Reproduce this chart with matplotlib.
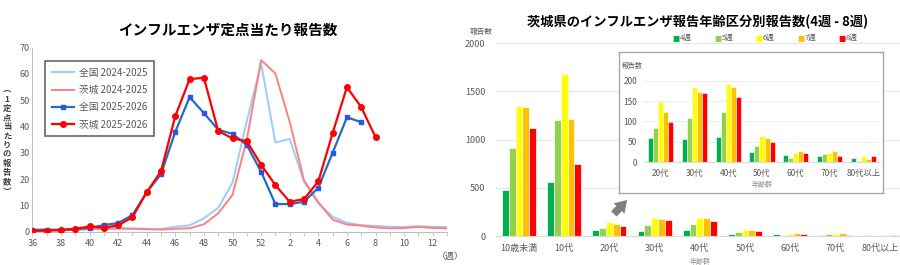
import numpy as np
import matplotlib.pyplot as plt
from matplotlib.patches import FancyArrowPatch

plt.rcParams['font.family'] = ['Noto Sans CJK JP', 'DejaVu Sans']

# ---- left chart data (weeks 36..52, 1..13) ----
weeks = list(range(36, 53)) + list(range(1, 14))
zenkoku_2425 = [1.0, 0.9, 0.8, 0.8, 0.9, 1.0, 1.1, 1.0, 0.9, 1.0, 1.9, 2.4, 5.1, 9.1, 18.6, 42.0,
                64.0, 33.9, 35.3, 19.0, 10.8, 5.7, 3.4, 2.5, 2.2, 1.9, 1.8, 2.1, 1.9, 1.8]
ibaraki_2425 = [0.5, 0.5, 0.6, 0.8, 1.0, 1.2, 1.3, 1.2, 1.0, 0.8, 1.1, 1.3, 2.8, 7.0, 14.0, 35.0,
                65.3, 60.2, 41.8, 19.5, 11.2, 4.6, 2.7, 2.3, 1.6, 1.3, 1.4, 1.8, 1.4, 1.3]
zenkoku_2526 = [0.6, 0.7, 0.7, 0.9, 1.5, 2.5, 3.3, 6.3, 15.0, 21.9, 38.0, 51.2, 45.1, 38.8, 37.2,
                33.0, 22.8, 10.5, 10.5, 11.4, 16.7, 30.0, 43.5, 41.7]
ibaraki_2526 = [0.3, 0.4, 0.6, 1.1, 2.0, 1.5, 2.4, 5.5, 15.0, 23.0, 44.0, 58.0, 58.6, 38.3, 35.5,
                34.4, 25.5, 17.7, 11.4, 12.4, 19.1, 37.5, 55.0, 47.4, 36.0]
left_series = ['全国 2024-2025', '茨城 2024-2025', '全国 2025-2026', '茨城 2025-2026']
ylabel_chars = ['︵', '1', '定', '点', '当', 'た', 'り', 'の', '報', '告', '数', '︶']

# ---- right chart data ----
age_groups = ['10歳未満', '10代', '20代', '30代', '40代', '50代', '60代', '70代', '80代以上']
week_labels = ['4週', '5週', '6週', '7週', '8週']
w4 = [480, 560, 59, 57, 62, 25, 17, 14, 10]
w5 = [910, 1205, 84, 109, 123, 39, 11, 19, 3]
w6 = [1350, 1682, 147, 185, 192, 63, 23, 21, 14]
w7 = [1343, 1218, 124, 174, 185, 59, 27, 26, 8]
w8 = [1125, 747, 99, 170, 160, 49, 22, 15, 15]
bar_colors = ['#00b050', '#92d050', '#ffff00', '#ffc000', '#ff0000']

fig = plt.figure(figsize=(9, 2.65), dpi=100)
W, H = 900, 265


def box(x0, y0, x1, y1):
    return [x0 / W, 1 - y1 / H, (x1 - x0) / W, (y1 - y0) / H]


grey = '#595959'

# ================= left =================
ax = fig.add_axes(box(32.3, 47.7, 447, 231.7))
idx = np.arange(len(weeks))
ax.plot(idx, zenkoku_2425, color='#99ccff', lw=1.4, label=left_series[0], zorder=2)
ax.plot(idx, ibaraki_2425, color='#ff8080', lw=1.4, label=left_series[1], zorder=2)
ax.plot(idx[:len(zenkoku_2526)], zenkoku_2526, color='#1f6fc0', lw=1.6, marker='s', ms=3.2,
        mfc='#2a55e6', mec='#2a55e6', label=left_series[2], zorder=3)
ax.plot(idx[:len(ibaraki_2526)], ibaraki_2526, color='#ff0000', lw=1.6, marker='o', ms=4,
        label=left_series[3], zorder=4)
ax.set_xlim(0, len(weeks) - 1)
ax.set_ylim(0, 70)
ax.set_yticks(range(0, 71, 10))
ax.set_xticks(idx[::2])
ax.set_xticklabels([str(w) for w in weeks[::2]])
ax.set_xticks(idx, minor=True)
for s in ['top', 'right']:
    ax.spines[s].set_visible(False)
for s in ['left', 'bottom']:
    ax.spines[s].set_color('#bfbfbf')
ax.tick_params(axis='both', labelsize=6.5, colors=grey, length=3, width=0.6, pad=2)
ax.tick_params(axis='x', which='minor', length=3, width=0.6, color='#bfbfbf')
ax.tick_params(axis='x', which='major', color='#bfbfbf')
ax.tick_params(axis='y', length=0)
leg = ax.legend(loc='upper left', bbox_to_anchor=(0.019, 0.955), fontsize=7, frameon=True,
                fancybox=False, handlelength=2.3, labelspacing=0.75, borderpad=0.7,
                handletextpad=0.5, labelcolor=grey)
leg.get_frame().set_edgecolor('#404040')
leg.get_frame().set_linewidth(1.2)

fig.text(228 / W, 1 - 30 / H, 'インフルエンザ定点当たり報告数', ha='center', va='center',
         fontsize=10.5, fontweight='bold')
for k, ch in enumerate(ylabel_chars):
    fig.text(7 / W, 1 - (90 + k * 9.2) / H, ch, ha='center', va='center', fontsize=6,
             fontweight='bold', color='#404040')
fig.text(437 / W, 1 - 256 / H, '（週）', ha='left', va='center', fontsize=6.5, color=grey)

# ================= right =================
ax2 = fig.add_axes(box(496.4, 43.3, 903.2, 236))
x = np.arange(len(age_groups))
bw = 0.15
for k, (vals, c) in enumerate(zip([w4, w5, w6, w7, w8], bar_colors)):
    ax2.bar(x + (k - 2) * bw, vals, bw, color=c, edgecolor='white', linewidth=0.5,
            label=week_labels[k], zorder=2)
ax2.set_xlim(-0.5, len(age_groups) - 0.5)
ax2.set_ylim(0, 2000)
ax2.set_yticks(range(0, 2001, 500))
ax2.set_xticks(x)
ax2.set_xticklabels(age_groups)
ax2.grid(axis='y', color='#e6e6e6', lw=0.8, zorder=0)
for s in ['top', 'right', 'left']:
    ax2.spines[s].set_visible(False)
ax2.spines['bottom'].set_color('#d9d9d9')
ax2.tick_params(axis='both', length=0, labelsize=6.5, colors=grey, pad=6)
ax2.tick_params(axis='y', pad=8)
ax2.set_xlabel('年齢群', fontsize=5, color='#909090', labelpad=3)

fig.text(698 / W, 1 - 22 / H, '茨城県のインフルエンザ報告年齢区分別報告数(4週 - 8週)',
         ha='center', va='center', fontsize=9.5, fontweight='bold')
fig.text(481 / W, 1 - 32 / H, '報告数', ha='center', va='center', fontsize=5.5, color=grey)

for k, (lab, c) in enumerate(zip(week_labels, bar_colors)):
    xx = (676 + k * 41.5) / W
    fig.text(xx, 1 - 38 / H, '■', ha='center', va='center', fontsize=5.5, color=c,
             family=['DejaVu Sans'])
    fig.text(xx + 4 / W, 1 - 38 / H, lab, ha='left', va='center', fontsize=5.5, color=grey)

# inset frame
frame = fig.add_axes(box(619.3, 52.3, 882.7, 193.3))
frame.set_xticks([])
frame.set_yticks([])
frame.set_facecolor('white')
for s in frame.spines.values():
    s.set_color('#a6a6a6')
    s.set_linewidth(1.0)

ins = fig.add_axes(box(643.8, 81, 880.2, 162))
ins.patch.set_alpha(0)
xs = np.arange(len(age_groups) - 2)
for k, (vals, c) in enumerate(zip([w4, w5, w6, w7, w8], bar_colors)):
    ins.bar(xs + (k - 2) * bw, vals[2:], bw, color=c, edgecolor='white', linewidth=0.4,
            zorder=2)
ins.set_xlim(-0.5, len(xs) - 0.5)
ins.set_ylim(0, 200)
ins.set_yticks(range(0, 201, 50))
ins.set_xticks(xs)
ins.set_xticklabels(age_groups[2:])
ins.grid(axis='y', color='#ececec', lw=0.7, zorder=0)
for s in ['top', 'right', 'left']:
    ins.spines[s].set_visible(False)
ins.spines['bottom'].set_color('#d9d9d9')
ins.tick_params(axis='both', length=0, labelsize=6, colors=grey, pad=5)
ins.set_xlabel('年齢群', fontsize=5, color='#909090', labelpad=2)
fig.text(632 / W, 1 - 66 / H, '報告数', ha='center', va='center', fontsize=5, color=grey)

# arrow pointing to inset
arrow = FancyArrowPatch((612 / W, 1 - 216 / H), (629 / W, 1 - 198 / H),
                        transform=fig.transFigure,
                        arrowstyle='simple,head_width=0.9,head_length=0.7,tail_width=0.45',
                        mutation_scale=12, color='#7f7f7f', lw=0)
fig.add_artist(arrow)

fig.savefig('out.png', dpi=100)
